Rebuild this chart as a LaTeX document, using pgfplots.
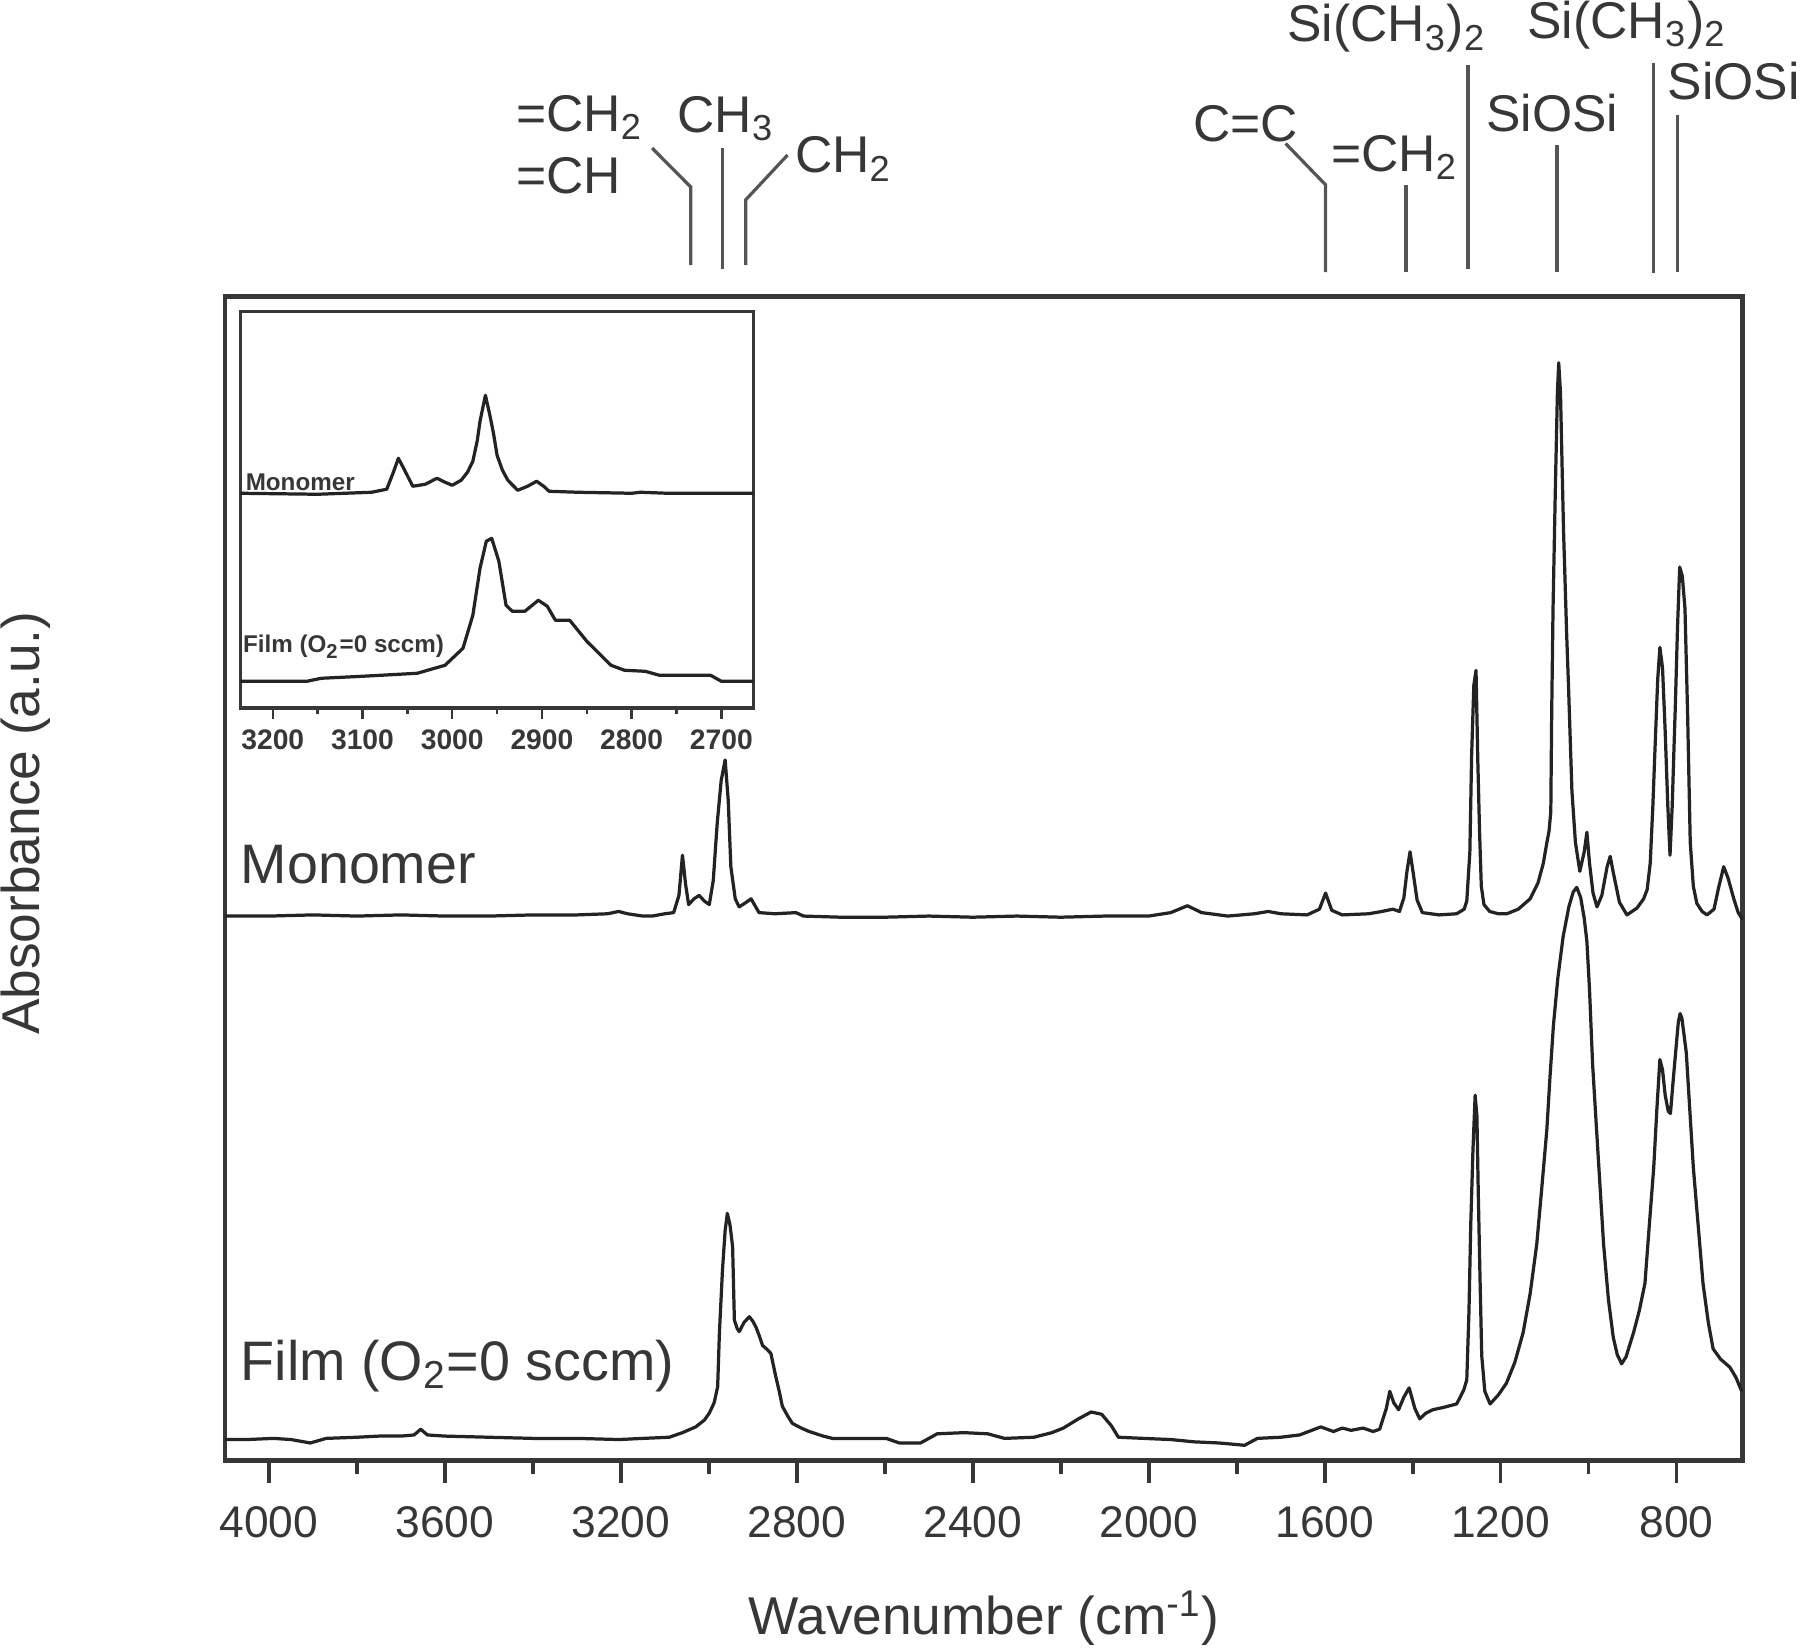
\documentclass[border=0pt]{standalone}
\usepackage{fontspec}
\setmainfont{Liberation Sans}
\usepackage{graphicx}
\usepackage{pgfplots}
\pgfplotsset{compat=1.18}

\definecolor{ink}{RGB}{55,55,55}
\definecolor{trace}{RGB}{35,35,35}
\definecolor{stick}{RGB}{85,85,85}
\newcommand\anno{\fontsize{12.8}{15}\selectfont}

\begin{document}
\begin{tikzpicture}
\path[use as bounding box] (-1.96cm,-1.63cm) rectangle (13.72cm,12.72cm);

% main spectrum panel
\begin{axis}[
    at={(0,0)}, anchor=south west,
    scale only axis, width=13.22cm, height=10.14cm,
    x dir=reverse, xmin=650, xmax=4100, ymin=0, ymax=1014,
    xtick={800,1200,...,4000}, minor xtick={1000,1400,...,3800},
    ytick=\empty, xtick pos=bottom, tick align=outside,
    major tick length=0.2cm, minor tick length=0.12cm,
    axis line style={ink, line width=1.2pt},
    every tick/.append style={ink, line width=0.9pt},
    scaled x ticks=false,
    /pgf/number format/1000 sep={},
    /pgf/number format/assume math mode=true,
    xticklabel style={font=\fontsize{11}{13}\selectfont, text=ink, yshift=-0.08cm},
    xlabel={Wavenumber (cm\textsuperscript{-1})},
    xlabel style={at={(axis description cs:0.5,-0.1405)}, anchor=mid,
        font=\fontsize{13.2}{15}\selectfont, text=ink},
    ylabel={Absorbance (a.u.)},
    ylabel style={at={(axis description cs:-0.1316,0.5473)}, anchor=center,
        font=\fontsize{13.2}{15}\selectfont, text=ink},
    clip=false,
]
% monomer
\addplot[trace, line width=0.8pt, line join=round, mark=none] coordinates {
(4100,474)(4000,474)(3900,475)(3800,474)(3700,475)(3600,474)(3500,474)(3400,475)
(3300,475)(3230,476)(3205,478)(3185,476)(3150,474)(3129,474)(3100,476)(3080,477)
(3068,492)(3060,527)(3053,502)(3046,484)(3034,489)(3022,492)(3010,487)(2999,484)
(2990,505)(2981,555)(2972,592)(2963,610)(2956,575)(2950,517)(2940,489)(2931,482)
(2915,486)(2904,489)(2895,483)(2886,477)(2850,476)(2802,477)(2785,474)(2700,473)
(2600,473)(2500,474)(2400,473)(2300,474)(2200,473)(2100,474)(2000,474)(1950,477)
(1912,483)(1880,477)(1820,474)(1760,476)(1728,478)(1700,476)(1640,475)(1612,480)
(1598,494)(1584,479)(1560,475)(1500,476)(1470,478)(1445,480)(1430,478)(1420,490)
(1413,513)(1406,530)(1399,512)(1390,488)(1378,477)(1340,475)(1300,476)(1283,480)
(1277,487)(1270,530)(1266,614)(1261,675)(1256,688)(1252,610)(1248,548)(1244,500)
(1238,484)(1225,478)(1205,476)(1186,476)(1160,480)(1133,489)(1115,503)(1103,520)
(1095,538)(1090,548)(1086,565)(1084,650)(1081,740)(1076,840)(1071,930)(1068,956)(1064,930)
(1060,860)(1057,809)(1050,720)(1046,677)(1038,583)(1030,538)(1020,513)(1010,530)
(1004,547)(998,520)(990,494)(981,482)(970,492)(958,517)(951,526)(944,512)
(930,486)(913,475)(890,481)(875,489)(867,497)(860,520)(854,570)(849,621)
(843,680)(838,708)(832,690)(826,635)(820,570)(815,527)(810,570)(806,620)
(803,656)(798,725)(793,778)(787,770)(781,742)(775,650)(769,538)(762,500)
(754,485)(742,478)(731,475)(715,480)(705,498)(693,517)(683,507)(670,489)
(660,477)(650,471)
};
% film
\addplot[trace, line width=0.8pt, line join=round, mark=none] coordinates {
(4100,18)(4050,18)(3990,19)(3950,18)(3906,15)(3870,19)(3800,20)(3750,21)
(3700,21)(3670,22)(3655,27)(3640,22)(3600,21)(3500,20)(3400,19)(3300,19)
(3204,18)(3150,19)(3090,20)(3060,24)(3030,29)(3010,35)(2999,41)(2988,50)
(2980,64)(2976,111)(2969,166)(2963,200)(2958,215)(2952,205)(2946,186)(2942,122)
(2936,115)(2931,112)(2920,120)(2908,125)(2900,121)(2893,116)(2885,108)(2878,100)
(2869,97)(2859,93)(2848,73)(2840,60)(2833,47)(2820,38)(2810,32)(2790,28)
(2772,25)(2740,21)(2719,19)(2650,19)(2597,19)(2567,15)(2519,15)(2495,20)
(2481,23)(2420,24)(2366,23)(2328,19)(2261,20)(2220,24)(2194,28)(2160,36)
(2131,42)(2107,40)(2085,30)(2069,20)(2012,19)(1950,18)(1897,16)(1840,15)
(1782,13)(1753,19)(1700,20)(1657,22)(1609,29)(1580,25)(1560,28)(1540,26)
(1513,28)(1490,25)(1475,27)(1460,45)(1452,60)(1443,50)(1432,44)(1420,55)
(1408,63)(1395,45)(1384,36)(1370,41)(1354,44)(1330,46)(1300,49)(1284,61)
(1277,70)(1272,130)(1268,205)(1263,270)(1258,318)(1254,300)(1251,235)(1247,160)
(1243,91)(1236,60)(1224,49)(1205,57)(1187,67)(1168,85)(1149,111)(1133,145)
(1118,188)(1107,235)(1095,288)(1088,333)(1080,379)(1070,420)(1058,456)(1045,482)
(1035,495)(1027,499)(1018,490)(1010,472)(1004,452)(998,410)(991,345)(982,288)
(966,188)(955,140)(944,107)(935,92)(925,84)(915,90)(898,111)(885,130)
(872,154)(862,205)(852,255)(845,305)(838,349)(832,340)(826,318)(819,304)
(814,302)(808,330)(800,365)(796,382)(792,389)(788,385)(778,355)(770,305)
(762,255)(750,200)(740,154)(728,120)(717,97)(700,88)(679,81)(665,72)
(652,60)
};

% curve labels
\node[anchor=mid west, inner sep=0, text=ink, font=\fontsize{13.8}{16}\selectfont]
    at (4066,512) {Monomer};
\node[anchor=mid west, inner sep=0, text=ink, font=\fontsize{13.8}{16}\selectfont]
    at (4066,79) {Film (O\textsubscript{2}=0 sccm)};

% band assignments above the frame
\begin{scope}[stick, line width=0.8pt]
\draw (3129,1143) -- (3041,1109) -- (3041,1041);
\draw (2969,1143) -- (2969,1038);
\draw (2821,1137) -- (2916,1098) -- (2916,1041);
\draw (1689,1147) -- (1598,1111) -- (1598,1035);
\draw (1415,1111) -- (1415,1035);
\draw (1274,1215) -- (1274,1038);
\draw (1072,1146) -- (1072,1035);
\draw (853,1217) -- (853,1034);
\draw (798,1172) -- (798,1035);
\end{scope}
\begin{scope}[every node/.style={inner sep=0, text=ink, font=\anno}]
\node[anchor=mid west] at (3440,1167) {=CH\textsubscript{2}};
\node[anchor=mid west] at (3440,1113) {=CH};
\node[anchor=mid] at (2961,1166) {CH\textsubscript{3}};
\node[anchor=mid west] at (2806,1131) {CH\textsubscript{2}};
\node[anchor=mid] at (1780,1158) {C=C};
\node[anchor=mid] at (1441,1132) {=CH\textsubscript{2}};
\node[anchor=mid] at (1459,1245) {Si(CH\textsubscript{3})\textsubscript{2}};
\node[anchor=mid] at (1083,1167) {SiOSi};
\node[anchor=mid] at (913,1248) {Si(CH\textsubscript{3})\textsubscript{2}};
\node[anchor=mid west] at (822,1195) {SiOSi};
\end{scope}
\end{axis}

% inset: C-H stretching region
\begin{axis}[
    at={(0.135cm,6.55cm)}, anchor=south west,
    scale only axis, width=4.47cm, height=3.455cm,
    x dir=reverse, xmin=2664, xmax=3236, ymin=0, ymax=396.6,
    xtick={2700,2800,...,3200}, minor xtick={2750,2850,...,3150},
    ytick=\empty, xtick pos=bottom, tick align=outside,
    major tick length=0.09cm, minor tick length=0.05cm,
    axis line style={ink, line width=0.9pt},
    every tick/.append style={ink, line width=0.6pt},
    scaled x ticks=false,
    /pgf/number format/1000 sep={},
    /pgf/number format/assume math mode=true,
    xticklabel style={font=\bfseries\fontsize{7}{8}\selectfont, text=ink, yshift=0.03cm},
    clip=false,
]
\addplot[trace, line width=0.8pt, line join=round, mark=none] coordinates {
(3236,215)(3150,214)(3090,216)(3073,219)(3066,235)(3060,250)(3053,238)(3044,222)
(3030,224)(3017,230)(3008,226)(3000,223)(2990,228)(2983,236)(2977,247)(2972,268)
(2969,287)(2963,313)(2958,293)(2954,275)(2950,253)(2944,238)(2938,228)(2927,218)
(2916,222)(2906,227)(2898,222)(2892,217)(2860,216)(2800,215)(2790,216)(2760,215)
(2664,215)
};
\addplot[trace, line width=0.8pt, line join=round, mark=none] coordinates {
(3236,27)(3162,27)(3146,30)(3100,32)(3039,35)(3008,43)(2988,60)(2977,93)
(2969,140)(2962,167)(2956,170)(2948,147)(2940,103)(2933,97)(2919,97)(2904,108)
(2894,102)(2885,88)(2869,88)(2850,67)(2823,43)(2808,38)(2785,37)(2769,33)
(2712,33)(2700,27)(2664,27)
};
\node[anchor=mid west, inner sep=0, text=ink, font=\bfseries\fontsize{6}{7}\selectfont]
    at (3231,228) {Monomer};
\node[anchor=mid west, inner sep=0, text=ink, font=\bfseries\fontsize{6}{7}\selectfont]
    at (3234,66) {Film (O\textsubscript{2}=0 sccm)};
\end{axis}
\end{tikzpicture}
\end{document}
